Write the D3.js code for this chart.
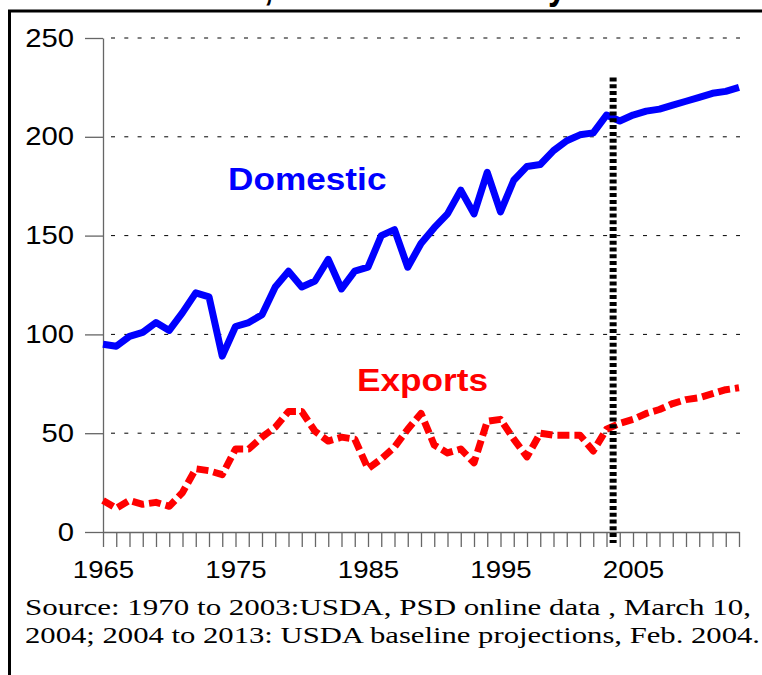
<!DOCTYPE html>
<html>
<head>
<meta charset="utf-8">
<script src="https://cdn.jsdelivr.net/npm/d3@7"></script>
<style>
  body { margin: 0; background: #fff; }
  svg { display: block; }
  .tick text { font-family: "Liberation Sans", Arial, sans-serif; fill: #000; }
</style>
</head>
<body>
<div id="chart"></div>
<script>
/* data */
var years = [1965, 1966, 1967, 1968, 1969, 1970, 1971, 1972, 1973, 1974,
             1975, 1976, 1977, 1978, 1979, 1980, 1981, 1982, 1983, 1984,
             1985, 1986, 1987, 1988, 1989, 1990, 1991, 1992, 1993, 1994,
             1995, 1996, 1997, 1998, 1999, 2000, 2001, 2002, 2003, 2004,
             2005, 2006, 2007, 2008, 2009, 2010, 2011, 2012, 2013];
var domestic = [95, 94, 99, 101, 106, 102, 111, 121, 119, 89,
                104, 106, 110, 124, 132, 124, 127, 138, 123, 132,
                134, 150, 153, 134, 146, 154, 161, 173, 161, 182,
                162, 178, 185, 186, 193, 198, 201, 202, 211, 208,
                211, 213, 214, 216, 218, 220, 222, 223, 225];
var exportsUse = [16, 12, 16, 14, 15, 13, 20, 32, 31, 29,
                  42, 42, 48, 53, 61, 61, 51, 46, 48, 47,
                  32, 37, 43, 52, 60, 44, 40, 42, 35, 56,
                  57, 47, 38, 50, 49, 49, 49, 41, 52, 55,
                  57, 60, 62, 65, 67, 68, 70, 72, 73];
var yTicks = [0, 50, 100, 150, 200, 250];
var labelYears = [1965, 1975, 1985, 1995, 2005];
var projectionStart = 2003.5;   // history | projections divider
var dividerTop = 230;
var titleText = "U.S. Use, 1965-2013 History";
var sourceLines = ["Source: 1970 to 2003:USDA, PSD online data , March 10,",
                   "2004; 2004 to 2013: USDA baseline projections, Feb.  2004."];

/* constants */
var W = 762, H = 675;
var plotLeft = 103, plotRight = 739, plotTop = 38, plotBottom = 532;

var svg = d3.select("#chart").append("svg")
    .attr("width", W)
    .attr("height", H);

// stretch text sideways a bit, the original is a little wide
function stretch(sel, k) {
    sel.each(function() {
        var w = this.getComputedTextLength();
        d3.select(this).attr("textLength", w * k).attr("lengthAdjust", "spacingAndGlyphs");
    });
}

var x = d3.scaleLinear().domain([1965, 2013]).range([plotLeft, plotRight]);
var y = d3.scaleLinear().domain([0, 250]).range([plotBottom, plotTop]);

/* title, only the descenders peek out above the frame */
var title = svg.append("text")
    .attr("x", 0).attr("y", -1)
    .style("font-family", "Liberation Sans, Arial, sans-serif")
    .style("font-weight", "bold")
    .style("font-size", "40px")
    .text(titleText);
var tn = title.node();
var c0 = tn.getStartPositionOfChar(titleText.indexOf(",")).x;
var y0 = tn.getStartPositionOfChar(titleText.lastIndexOf("y")).x;
stretch(title, 284 / (y0 - c0));
c0 = tn.getStartPositionOfChar(titleText.indexOf(",")).x;
title.attr("x", 264 - c0);

/* frame */
svg.append("rect").attr("x", 0).attr("y", 0).attr("width", W).attr("height", 10).attr("fill", "none");
svg.append("line").attr("x1", 9.5).attr("x2", 9.5).attr("y1", 10).attr("y2", H)
    .attr("stroke", "#000").attr("stroke-width", 3);
svg.append("line").attr("x1", 8).attr("x2", W).attr("y1", 11).attr("y2", 11)
    .attr("stroke", "#000").attr("stroke-width", 3);

/* grid */
svg.append("g").selectAll("line")
    .data(yTicks.filter(function(d) { return d > 0; }))
    .enter()
    .append("line")
    .attr("x1", plotLeft).attr("x2", 740)
    .attr("y1", function(d) { return y(d); })
    .attr("y2", function(d) { return y(d); })
    .attr("stroke", "#000")
    .attr("stroke-width", 1)
    .attr("stroke-dasharray", "4,9.3")
    .attr("stroke-dashoffset", -8);

/* y axis */
var yAxis = svg.append("g")
    .attr("transform", "translate(" + plotLeft + ",0)")
    .call(d3.axisLeft(y).tickValues(yTicks).tickSize(18).tickSizeOuter(0).tickPadding(11));
yAxis.select(".domain").attr("stroke", "#666").attr("stroke-width", 1.3);
yAxis.selectAll(".tick line").attr("stroke", "#666").attr("stroke-width", 1.3);
yAxis.selectAll(".tick text").style("font-size", "25px");
stretch(yAxis.selectAll(".tick text"), 1.17);

/* x axis */
var xAxis = svg.append("g")
    .attr("transform", "translate(0," + plotBottom + ")")
    .call(d3.axisBottom(x).tickValues(years).tickSize(15).tickSizeOuter(0).tickPadding(14)
        .tickFormat(function(d) { return labelYears.indexOf(d) >= 0 ? d : ""; }));
xAxis.select(".domain").attr("stroke", "#666").attr("stroke-width", 1.3);
xAxis.selectAll(".tick line").attr("stroke", "#666").attr("stroke-width", 1.3);
xAxis.selectAll(".tick text").style("font-size", "24px");
stretch(xAxis.selectAll(".tick text").filter(function(d) { return labelYears.indexOf(d) >= 0; }), 1.15);

/* lines */
var line = d3.line()
    .x(function(d, i) { return x(years[i]); })
    .y(function(d) { return y(d); });

svg.append("path")
    .attr("d", line(exportsUse))
    .attr("fill", "none")
    .attr("stroke", "#ff0000")
    .attr("stroke-width", 7)
    .attr("stroke-dasharray", "12,5")
    .attr("stroke-linejoin", "round");

svg.append("path")
    .attr("d", line(domestic))
    .attr("fill", "none")
    .attr("stroke", "#0000ff")
    .attr("stroke-width", 7)
    .attr("stroke-linejoin", "round");

/* divider */
svg.append("line")
    .attr("x1", x(projectionStart)).attr("x2", x(projectionStart))
    .attr("y1", y(dividerTop)).attr("y2", plotBottom + 11)
    .attr("stroke", "#000")
    .attr("stroke-width", 7)
    .attr("stroke-dasharray", "4,2.8");

/* series labels */
var dom = svg.append("text")
    .attr("x", 228).attr("y", 190)
    .attr("fill", "#0000ff")
    .style("font-family", "Liberation Sans, Arial, sans-serif")
    .style("font-weight", "bold")
    .style("font-size", "32px")
    .text("Domestic");
stretch(dom, 1.1);

var exp = svg.append("text")
    .attr("x", 357).attr("y", 391)
    .attr("fill", "#ff0000")
    .style("font-family", "Liberation Sans, Arial, sans-serif")
    .style("font-weight", "bold")
    .style("font-size", "32px")
    .text("Exports");
stretch(exp, 1.1);

/* source note */
svg.append("g").selectAll("text")
    .data(sourceLines)
    .enter()
    .append("text")
    .attr("x", 25)
    .attr("y", function(d, i) { return 615 + i * 28; })
    .style("font-family", "Liberation Serif, Times New Roman, serif")
    .style("font-size", "24px")
    .attr("textLength", function(d, i) { return i == 0 ? 726 : 735; })
    .attr("lengthAdjust", "spacingAndGlyphs")
    .text(function(d) { return d; });
</script>
</body>
</html>
